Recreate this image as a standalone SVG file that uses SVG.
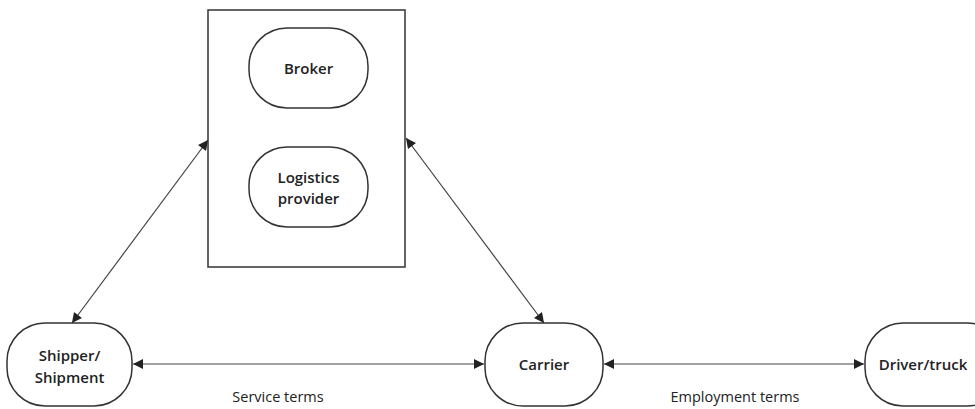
<svg xmlns="http://www.w3.org/2000/svg" width="975" height="409" viewBox="0 0 975 409">
<style>
.node{fill:#fff;stroke:#333;stroke-width:1.5}
.lbl{font-family:"Open Sans","Liberation Sans",sans-serif;font-size:15px;font-weight:600;fill:#222;text-anchor:middle}
.cap{font-family:"Open Sans","Liberation Sans",sans-serif;font-size:14.5px;fill:#222;text-anchor:middle}
.con{stroke:#444;stroke-width:1.2;fill:none;marker-start:url(#ah);marker-end:url(#ah)}
</style>
<defs>
<marker id="ah" viewBox="0 0 10 10" refX="10" refY="5" markerWidth="12" markerHeight="10" markerUnits="userSpaceOnUse" orient="auto-start-reverse">
<path d="M0,0 L10,5 L0,10 z" fill="#222"/>
</marker>
</defs>
<rect width="975" height="409" fill="#fff"/>
<g id="intermediary">
<rect x="208" y="10" width="197" height="257" fill="#fff" stroke="#333" stroke-width="1.5"/>
</g>
<g id="broker">
<rect class="node" x="249" y="28" width="119" height="80" rx="38" ry="38"/>
<text class="lbl" x="308.5" y="74">Broker</text>
</g>
<g id="logistics">
<rect class="node" x="249" y="147" width="119" height="80" rx="38" ry="38"/>
<text class="lbl" x="308.5" y="183">Logistics</text>
<text class="lbl" x="308.5" y="204">provider</text>
</g>
<g id="shipper">
<rect class="node" x="7" y="323" width="125" height="83" rx="38" ry="38"/>
<text class="lbl" x="69.5" y="361">Shipper/</text>
<text class="lbl" x="69.5" y="383">Shipment</text>
</g>
<g id="carrier">
<rect class="node" x="485" y="323" width="118" height="83" rx="38" ry="38"/>
<text class="lbl" x="544" y="370">Carrier</text>
</g>
<g id="driver">
<rect class="node" x="865" y="323" width="140" height="83" rx="38" ry="38"/>
<text class="lbl" x="923" y="370">Driver/truck</text>
</g>
<g id="connectors">
<line class="con" x1="72" y1="323" x2="208" y2="140"/>
<line class="con" x1="544" y1="323" x2="406" y2="138"/>
<line class="con" x1="133" y1="364" x2="484" y2="364"/>
<line class="con" x1="604" y1="364" x2="864" y2="364"/>
</g>
<text class="cap" x="278" y="402">Service terms</text>
<text class="cap" x="735" y="402">Employment terms</text>
</svg>
